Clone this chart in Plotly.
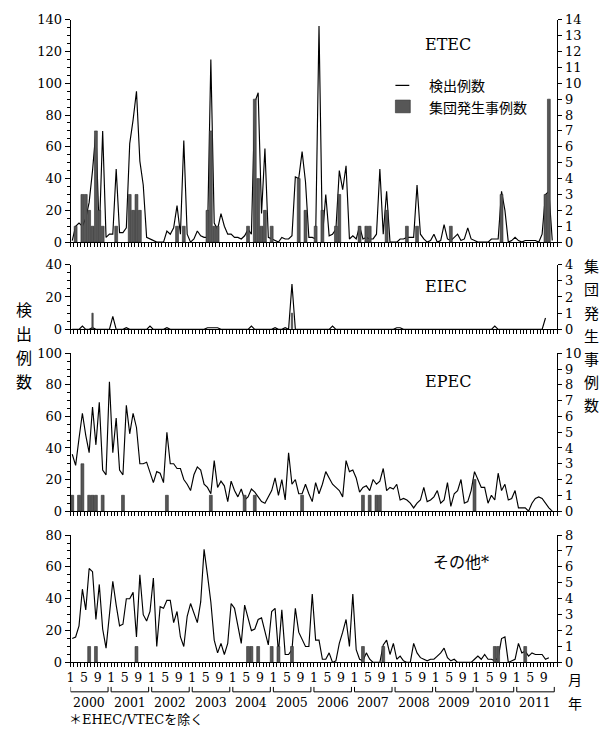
import plotly.graph_objects as go

W, H = 606, 740

# ---------------- data (monthly, index 0 = Jan 2000) ----------------
years = [2000, 2001, 2002, 2003, 2004, 2005, 2006, 2007, 2008, 2009, 2010, 2011]
month_labels = ["1", "5", "9"]

etec_cases = [1, 10, 12, 10, 15, 25, 45, 70, 5, 70,
              3, 5, 5, 46, 6, 6, 9, 62, 77, 95,
              51, 36, 3, 2, 1, 0, 0, 0, 7, 5,
              9, 23, 5, 64, 5, 0, 2, 7, 4, 3,
              3, 115, 12, 8, 18, 10, 5, 5, 3, 3,
              2, 4, 8, 5, 88, 94, 18, 59, 3, 2,
              1, 0, 3, 2, 2, 4, 41, 40, 57, 38,
              3, 3, 2, 136, 3, 30, 4, 5, 8, 45,
              33, 48, 2, 4, 2, 10, 2, 3, 2, 2,
              5, 46, 5, 32, 0, 0, 0, 2, 2, 3,
              3, 3, 36, 5, 2, 0, 1, 5, 0, 1,
              11, 2, 1, 3, 5, 1, 2, 9, 2, 1,
              0, 0, 0, 0, 2, 2, 2, 32, 20, 0,
              1, 3, 1, 0, 1, 1, 1, 1, 0, 5,
              30, 32, 1]
etec_outbreak_month = [1, 3, 4, 5, 6, 7, 8, 9, 13, 17, 18, 19, 20, 31, 33, 40, 41, 42, 43,
                       52, 54, 55, 56, 57, 59, 67, 69, 72, 74, 78, 79, 85, 87, 88, 93,
                       99, 102, 112, 127, 140, 141]
etec_outbreak_count = [1, 3, 3, 2, 1, 7, 2, 1, 1, 3, 2, 3, 2, 1, 1, 2, 7, 1, 1,
                       1, 9, 4, 1, 2, 1, 4, 2, 1, 2, 1, 3, 1, 1, 1, 2,
                       1, 1, 1, 3, 3, 9]

eiec_cases = [0, 0, 0, 2, 0, 0, 1, 0, 0, 0,
              0, 0, 8, 0, 0, 0, 1, 0, 0, 0,
              0, 0, 0, 2, 0, 0, 0, 0, 1, 0,
              0, 0, 0, 0, 0, 0, 0, 0, 0, 0,
              1, 1, 1, 1, 0, 0, 0, 0, 0, 0,
              0, 0, 0, 2, 0, 0, 0, 0, 0, 0,
              1, 0, 0, 1, 0, 28, 0, 0, 0, 0,
              0, 0, 0, 0, 0, 0, 0, 2, 0, 0,
              0, 0, 0, 0, 0, 0, 0, 0, 0, 0,
              0, 0, 0, 0, 0, 0, 1, 1, 0, 0,
              0, 0, 0, 0, 0, 0, 0, 0, 0, 0,
              0, 0, 0, 0, 0, 0, 0, 0, 0, 0,
              0, 0, 0, 0, 0, 2, 0, 0, 0, 0,
              0, 0, 0, 0, 0, 0, 0, 0, 0, 0,
              7]
eiec_outbreak_month = [6, 65]
eiec_outbreak_count = [1, 1]

epec_cases = [36, 29, 46, 62, 48, 37, 66, 42, 69, 26,
              23, 82, 37, 59, 26, 23, 67, 49, 62, 53,
              30, 30, 31, 24, 18, 25, 24, 18, 50, 30,
              30, 27, 27, 20, 17, 13, 23, 28, 26, 17,
              15, 11, 32, 15, 19, 16, 6, 19, 13, 9,
              14, 7, 9, 14, 12, 9, 6, 5, 9, 13,
              21, 10, 20, 7, 37, 17, 20, 11, 11, 17,
              11, 6, 18, 11, 17, 25, 21, 17, 15, 13,
              9, 32, 25, 26, 21, 12, 15, 16, 13, 20,
              17, 19, 27, 13, 15, 14, 17, 7, 8, 7,
              5, 2, 5, 7, 15, 6, 7, 9, 13, 5,
              7, 18, 3, 11, 13, 20, 5, 6, 13, 25,
              20, 15, 15, 5, 10, 7, 24, 13, 17, 7,
              8, 13, 2, 2, 2, 0, 5, 8, 9, 8,
              5, 2, 0]
epec_outbreak_month = [0, 2, 3, 5, 6, 7, 9, 15, 28, 41, 51, 54, 68, 86, 88, 90, 91, 119]
epec_outbreak_count = [1, 1, 3, 1, 1, 1, 1, 1, 1, 1, 1, 1, 1, 1, 1, 1, 1, 2]

other_cases = [15, 16, 23, 46, 33, 59, 57, 27, 49, 21,
               9, 31, 51, 36, 23, 24, 40, 40, 44, 16,
               55, 30, 26, 32, 53, 10, 35, 34, 39, 39,
               25, 32, 16, 10, 29, 37, 31, 25, 38, 71,
               55, 38, 14, 6, 12, 5, 12, 37, 34, 23,
               12, 36, 27, 20, 21, 27, 28, 19, 11, 32,
               34, 6, 33, 5, 5, 8, 34, 19, 14, 10,
               10, 43, 14, 14, 2, 2, 6, 0, 1, 12,
               19, 27, 10, 43, 8, 2, 1, 6, 2, 0,
               0, 0, 11, 14, 5, 12, 2, 4, 1, 0,
               0, 12, 6, 3, 2, 1, 2, 2, 4, 6,
               9, 3, 1, 2, 0, 0, 0, 0, 0, 2,
               4, 2, 5, 2, 2, 1, 3, 15, 16, 0,
               1, 2, 12, 6, 7, 4, 6, 5, 5, 5,
               2, 3]
other_outbreak_month = [5, 7, 19, 52, 53, 55, 59, 61, 65, 86, 92, 125, 126, 134]
other_outbreak_count = [1, 1, 1, 1, 1, 1, 1, 1, 1, 1, 1, 1, 1, 1]

months = list(range(144))

# ---------------- layout helpers (page pixel -> paper fraction) ----------------
def fx(px):
    return px / W

def fy(py):
    return 1 - py / H

SERIF = "DejaVu Serif, Noto Sans CJK JP"
JP = "Noto Sans CJK JP"
BAR_COLOR = "#575757"
BAR_EDGE = "#2e2e2e"

panels = [
    dict(title="ETEC", cases=etec_cases, obm=etec_outbreak_month, obc=etec_outbreak_count,
         lmax=140, rmax=14, top=13, bottom=240, tx=447, ty=38, bw=0.85),
    dict(title="EIEC", cases=eiec_cases, obm=eiec_outbreak_month, obc=eiec_outbreak_count,
         lmax=40, rmax=4, top=263, bottom=329, tx=445, ty=285, bw=0.4),
    dict(title="EPEC", cases=epec_cases, obm=epec_outbreak_month, obc=epec_outbreak_count,
         lmax=100, rmax=10, top=353.5, bottom=514.5, tx=447, ty=382, bw=0.85),
    dict(title="その他*", cases=other_cases, obm=other_outbreak_month, obc=other_outbreak_count,
         lmax=80, rmax=8, top=539, bottom=669, tx=460, ty=567, bw=0.85),
]

fig = go.Figure()
layout = dict(
    width=W, height=H,
    margin=dict(l=0, r=0, t=0, b=0, pad=0),
    paper_bgcolor="white", plot_bgcolor="white",
    showlegend=False, hovermode=False,
    barmode="overlay",
    font=dict(family=SERIF, size=13, color="black"),
)

x_dom = [fx(67), fx(557)]
boundaries = [k - 0.5 for k in range(145)]

annotations = []
shapes = []

for p, cfg in enumerate(panels):
    n = p + 1
    xname = "xaxis" if n == 1 else f"xaxis{n}"
    xref = "x" if n == 1 else f"x{n}"
    yl, yr = 2 * p + 1, 2 * p + 2
    ylname = "yaxis" if yl == 1 else f"yaxis{yl}"
    ylref = "y" if yl == 1 else f"y{yl}"
    yrname, yrref = f"yaxis{yr}", f"y{yr}"
    dom = [fy(cfg["bottom"]), fy(cfg["top"])]
    last = (n == len(panels))

    if last:
        ticktext = []
        for k in range(145):
            if k < 144 and (k % 12) in (0, 4, 8):
                ticktext.append(month_labels[(k % 12) // 4])
            else:
                ticktext.append("")
    else:
        ticktext = [""] * 145

    layout[xname] = dict(
        domain=x_dom, anchor=ylref, range=[-0.5, 143.5],
        showline=True, linecolor="black", linewidth=1,
        ticks="outside", ticklen=4, tickwidth=1, tickcolor="black",
        tickmode="array", tickvals=boundaries, ticktext=ticktext,
        showticklabels=last, tickangle=0,
        tickfont=dict(family=SERIF, size=12.5, color="black"),
        showgrid=False, zeroline=False, fixedrange=True,
    )
    layout[ylname] = dict(
        domain=dom, anchor=xref, range=[0, cfg["lmax"]],
        showline=True, linecolor="black", linewidth=1,
        ticks="outside", ticklen=5, tickwidth=1, tickcolor="black",
        tickmode="linear", tick0=0, dtick=20,
        minor=dict(ticks="outside", ticklen=3, tickwidth=1, tickcolor="black", dtick=5, showgrid=False),
        tickfont=dict(family=SERIF, size=13, color="black"),
        showgrid=False, zeroline=False, fixedrange=True,
    )
    layout[yrname] = dict(
        overlaying=ylref, side="right", anchor=xref, range=[0, cfg["rmax"]],
        showline=True, linecolor="black", linewidth=1,
        ticks="outside", ticklen=4, tickwidth=1, tickcolor="black",
        tickmode="linear", tick0=0, dtick=1,
        tickfont=dict(family=SERIF, size=13, color="black"),
        showgrid=False, zeroline=False, fixedrange=True,
    )

    fig.add_trace(go.Scatter(
        x=months[:len(cfg["cases"])], y=cfg["cases"],
        xaxis=xref, yaxis=ylref, mode="lines",
        line=dict(color="black", width=1.15), hoverinfo="skip",
    ))
    fig.add_trace(go.Bar(
        x=cfg["obm"], y=cfg["obc"], xaxis=xref, yaxis=yrref,
        width=cfg["bw"], marker=dict(color=BAR_COLOR, line=dict(color=BAR_EDGE, width=0.6)),
        hoverinfo="skip",
    ))

    annotations.append(dict(
        text=cfg["title"], x=fx(cfg["tx"]), y=fy(cfg["ty"]), xref="paper", yref="paper",
        showarrow=False, xanchor="center", yanchor="middle",
        font=dict(family=SERIF, size=16, color="black"),
    ))

# year brackets and labels under the bottom panel
for yi, yv in enumerate(years):
    x0 = 12 * yi - 0.5
    x1 = 12 * yi + 10.6
    shapes.append(dict(
        type="path", xref="x4", yref="paper",
        path=f"M {x0},{fy(694)} L {x0},{fy(699)} L {x1},{fy(699)} L {x1},{fy(694)}",
        line=dict(color="black", width=1),
    ))
    annotations.append(dict(
        text=str(yv), x=12 * yi + 5, y=fy(710), xref="x4", yref="paper",
        showarrow=False, xanchor="center", yanchor="middle",
        font=dict(family=SERIF, size=12.5, color="black"),
    ))

annotations.append(dict(text="月", x=fx(575), y=fy(686), xref="paper", yref="paper",
                        showarrow=False, xanchor="center", yanchor="middle",
                        font=dict(family=JP, size=14, color="black")))
annotations.append(dict(text="年", x=fx(575), y=fy(710), xref="paper", yref="paper",
                        showarrow=False, xanchor="center", yanchor="middle",
                        font=dict(family=JP, size=14, color="black")))

# vertical axis titles
left_title = "検出例数"
for k, ch in enumerate(left_title):
    annotations.append(dict(text=ch, x=fx(20), y=fy(308 + 24.5 * k), xref="paper", yref="paper",
                            showarrow=False, xanchor="center", yanchor="middle",
                            font=dict(family=JP, size=16, color="black")))
right_title = "集団発生事例数"
for k, ch in enumerate(right_title):
    annotations.append(dict(text=ch, x=fx(591), y=fy(264 + 23.7 * k), xref="paper", yref="paper",
                            showarrow=False, xanchor="center", yanchor="middle",
                            font=dict(family=JP, size=15, color="black")))

# legend (drawn manually)
shapes.append(dict(type="line", xref="paper", yref="paper",
                   x0=fx(394), x1=fx(408), y0=fy(80), y1=fy(80),
                   line=dict(color="black", width=1.2)))
shapes.append(dict(type="rect", xref="paper", yref="paper",
                   x0=fx(394), x1=fx(409), y0=fy(108), y1=fy(95),
                   fillcolor=BAR_COLOR, line=dict(color=BAR_EDGE, width=0.6)))
annotations.append(dict(text="検出例数", x=fx(426), y=fy(80), xref="paper", yref="paper",
                        showarrow=False, xanchor="left", yanchor="middle",
                        font=dict(family=JP, size=14, color="black")))
annotations.append(dict(text="集団発生事例数", x=fx(426), y=fy(102), xref="paper", yref="paper",
                        showarrow=False, xanchor="left", yanchor="middle",
                        font=dict(family=JP, size=14, color="black")))

# footnote
annotations.append(dict(text="＊EHEC/VTECを除く", x=fx(63), y=fy(727), xref="paper", yref="paper",
                        showarrow=False, xanchor="left", yanchor="middle",
                        font=dict(family=SERIF, size=13, color="black")))

layout["annotations"] = annotations
layout["shapes"] = shapes
fig.update_layout(**layout)

# make the page exactly the figure size (no default body margin / scrollbars)
page_css = (
    "document.documentElement.style.margin='0';"
    "document.documentElement.style.padding='0';"
    "document.documentElement.style.overflow='hidden';"
    "document.body.style.margin='0';"
    "document.body.style.padding='0';"
    "document.body.style.overflow='hidden';"
)

fig.write_html("out.html", config={"displayModeBar": False, "staticPlot": True},
               post_script=page_css)
